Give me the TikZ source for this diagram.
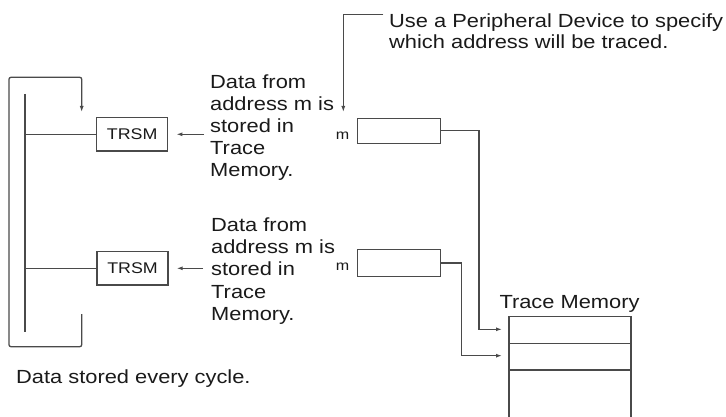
\documentclass[tikz,border=0pt]{standalone}
\usepackage{fontspec}
\setmainfont{Liberation Sans}
\newfontfamily\wfont[FakeStretch=1.15]{Liberation Sans}
\usetikzlibrary{arrows.meta}
\definecolor{linegray}{HTML}{4A4A4A}
\definecolor{txt}{HTML}{1A1A1A}
\begin{document}
\begin{tikzpicture}[x=1pt,y=-1pt,
  line/.style={draw=linegray,line width=1.3pt},
  arr/.style={line,-{Latex[length=6pt,width=4pt]}},
  boxnode/.style={draw=linegray,line width=1.4pt,inner sep=0pt,fill=white},
  lbl/.style={text=txt,inner sep=0pt,align=left,anchor=north west,
     font=\wfont\fontsize{19}{22.1}\selectfont},
  toplbl/.style={lbl,font=\wfont\fontsize{19}{20.6}\selectfont},
  trsmtxt/.style={font=\wfont\fontsize{15.5}{18}\selectfont,text=txt},
  mlbl/.style={text=txt,inner sep=0pt,anchor=base,font=\wfont\fontsize{14}{16}\selectfont}
]
\useasboundingbox (0,0) rectangle (726,417);

% ---- top note
\node[toplbl] (use) at (389,13.85) {Use a Peripheral Device to specify\\which address will be traced.};
\coordinate (u0) at (383.3,14.7);
\coordinate (ptip) at (343.3,112);
\draw[arr] (u0) -| (ptip);

% ---- address boxes
\node[boxnode,minimum width=83.4pt,minimum height=25pt] (mbox1) at (399,130.8) {};
\node[boxnode,minimum width=83.4pt,minimum height=27pt] (mbox2) at (399,263) {};
\node[mlbl] (m1) at (342.5,139.3) {m};
\node[mlbl] (m2) at (342.5,270) {m};

% ---- TRSM boxes
\node[boxnode,trsmtxt,minimum width=71pt,minimum height=33.3pt] (trsm1) at (132.2,134.3) {TRSM};
\node[boxnode,trsmtxt,minimum width=71pt,minimum height=33.3pt] (trsm2) at (132.5,268.3) {TRSM};

% ---- explanation texts
\node[lbl] (data1) at (210,74.4) {Data from\\address m is\\stored in\\Trace\\Memory.};
\node[lbl] (data2) at (211,217.8) {Data from\\address m is\\stored in\\Trace\\Memory.};
\coordinate (a1) at (204,134.3);
\coordinate (a2) at (203,268.3);
\draw[arr,shorten >=8pt] (a1) -- (trsm1.east);
\draw[arr,shorten >=8pt] (a2) -- (trsm2.east);

% ---- ladder rails
\coordinate (itop) at (25,94);
\coordinate (ibot) at (25,331.7);
\draw[line] (itop) -- (ibot);
\draw[line] (trsm1.west) -- (trsm1.west -| itop);
\draw[line] (trsm2.west) -- (trsm2.west -| itop);

\coordinate (bup) at (81.7,314);
\coordinate (btip) at (81.7,112);
\draw[arr,rounded corners=2pt] (bup) -- (81.7,346.7) -- (9,346.7) -- (9,77.3) -- (81.7,77.3) -- (btip);

\node[lbl,anchor=base west] (every) at (16,383.3) {Data stored every cycle.};

% ---- trace memory
\node[lbl,anchor=base west] (tmlbl) at (499.3,308.3) {Trace Memory};
\coordinate (mtl) at (509,316.7);
\coordinate (mtr) at (631,316.7);
\draw[line] (509,417) -- (mtl) -- (mtr) -- (631,417);
\draw[line] (509,343.3) -- (631,343.3);
\draw[line] (509,370) -- (631,370);

\coordinate (c1) at (479,329.3);
\coordinate (r1) at (502,329.3);
\coordinate (c2) at (461.7,355.7);
\coordinate (r2) at (502,355.7);
\draw[arr] (mbox1.east) -| (c1) -- (r1);
\draw[arr] (mbox2.east) -| (c2) -- (r2);
\end{tikzpicture}
\end{document}
